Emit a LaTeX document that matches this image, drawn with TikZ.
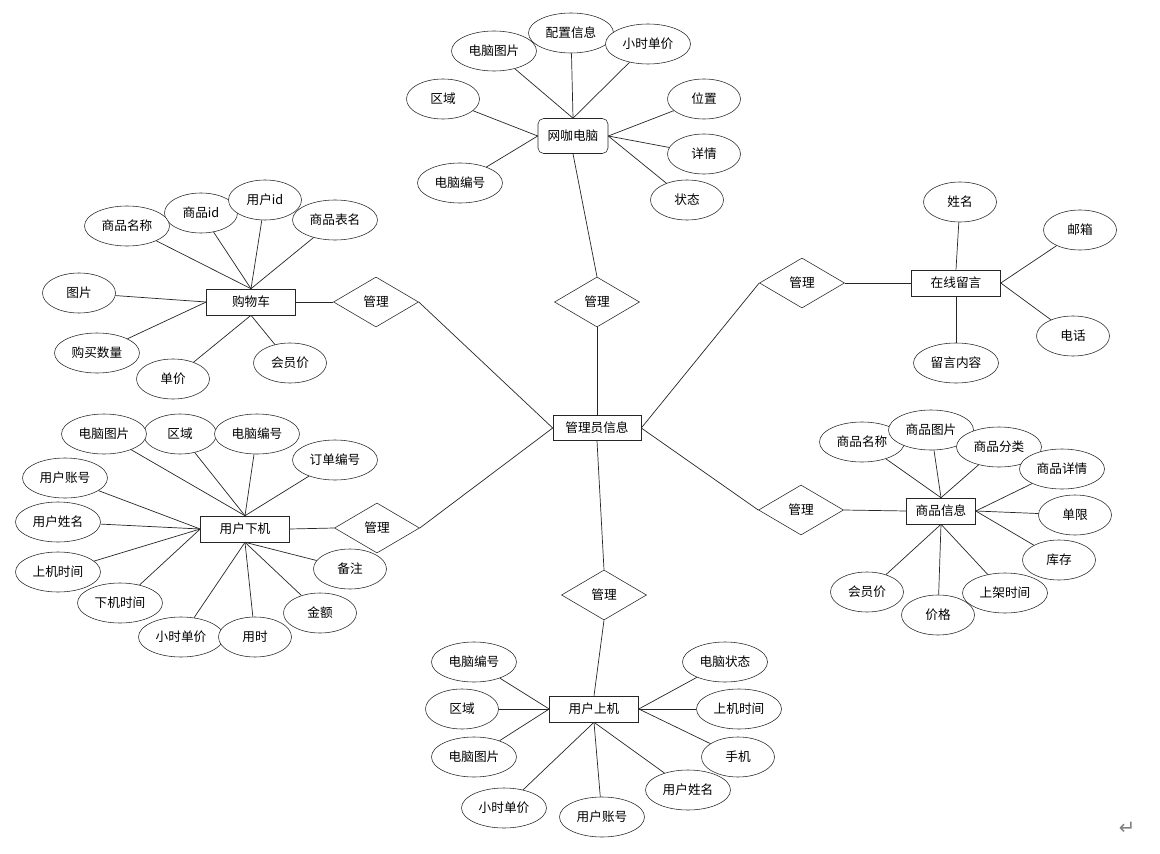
\documentclass[tikz,border=0pt]{standalone}
\usepackage{fontspec}
\setmainfont{Noto Sans CJK SC}
\newfontfamily\symfont{DejaVu Sans}
\usetikzlibrary{shapes.geometric}

\begin{document}
\begin{tikzpicture}[x=0.025cm, y=-0.025cm,
    every node/.style={font=\fontsize{9}{10}\selectfont, inner sep=0pt},
    attr/.style={draw=black!85, fill=white, ellipse, minimum width=2.125cm, minimum height=1cm},
    attrs/.style={attr, minimum width=1.825cm},
    ent/.style={draw=black!85, fill=white, rectangle, minimum width=2.225cm, minimum height=0.65cm},
    rel/.style={draw=black!85, fill=white, diamond, minimum width=2.125cm, minimum height=1.25cm},
    link/.style={draw=black!85, line width=0.5pt}]
    \useasboundingbox (0,0) rectangle (1160,854);

    % centre
    \node[ent, minimum width=2.2cm, minimum height=0.625cm] (admin) at (597,428) {管理员信息};

    % 网咖电脑
    \node[ent, rounded corners=4pt, minimum width=1.75cm, minimum height=0.875cm] (pc) at (573,136) {网咖电脑};
    \node[attr] (pccfg) at (571,33) {配置信息};
    \node[attr] (pcimg) at (494,51) {电脑图片};
    \node[attr] (pcprice) at (648,44) {小时单价};
    \node[attrs] (pcarea) at (443,99) {区域};
    \node[attrs] (pcpos) at (704,99) {位置};
    \node[attrs] (pcinfo) at (704,154) {详情};
    \node[attr] (pcno) at (460,183) {电脑编号};
    \node[attrs] (pcstate) at (687,200) {状态};
    \node[rel] (mpc) at (597,302) {管理};
    \draw[link] (pc.north) -- (pcimg);
    \draw[link] (pc.north) -- (pccfg);
    \draw[link] (pc.north) -- (pcprice);
    \draw[link] (pc.west) -- (pcarea);
    \draw[link] (pc.west) -- (pcno);
    \draw[link] (pc.east) -- (pcpos);
    \draw[link] (pc.east) -- (pcinfo);
    \draw[link] (pc.east) -- (pcstate);
    \draw[link] (pc.south) -- (mpc.north);
    \draw[link] (mpc.south) -- (admin.north);

    % 购物车
    \node[ent] (cart) at (251,302) {购物车};
    \node[attrs] (cartgid) at (201,213) {商品id};
    \node[attr] (cartname) at (127,226) {商品名称};
    \node[attr] (carttab) at (335,220) {商品表名};
    \node[attrs] (cartuid) at (265,200) {用户id};
    \node[attrs] (cartimg) at (79,293) {图片};
    \node[attr] (cartnum) at (97,353) {购买数量};
    \node[attrs] (cartprice) at (173,379) {单价};
    \node[attrs] (cartvip) at (290,363) {会员价};
    \node[rel] (mcart) at (376,302) {管理};
    \draw[link] (cart.north) -- (cartname);
    \draw[link] (cart.north) -- (cartgid);
    \draw[link] (cart.north) -- (cartuid);
    \draw[link] (cart.north) -- (carttab);
    \draw[link] (cart.west) -- (cartimg);
    \draw[link] (cart.west) -- (cartnum);
    \draw[link] (cart.south) -- (cartprice);
    \draw[link] (cart.south) -- (cartvip);
    \draw[link] (cart.east) -- (mcart.west);
    \draw[link] (mcart.east) -- (admin.west);

    % 用户下机
    \node[ent] (off) at (245,529) {用户下机};
    \node[attrs] (offarea) at (180,434) {区域};
    \node[attr] (offimg) at (104,434) {电脑图片};
    \node[attr] (offno) at (257,434) {电脑编号};
    \node[attr] (offorder) at (335,460) {订单编号};
    \node[attr] (offacc) at (65,478) {用户账号};
    \node[attr] (offname) at (58,522) {用户姓名};
    \node[attr] (offstart) at (58,572) {上机时间};
    \node[attr] (offend) at (120,603) {下机时间};
    \node[attr] (offprice) at (181,637) {小时单价};
    \node[attrs] (offtime) at (255,637) {用时};
    \node[attrs] (offsum) at (320,613) {金额};
    \node[attrs] (offnote) at (350,569) {备注};
    \node[rel] (moff) at (377,528) {管理};
    \draw[link] (off.north) -- (offimg);
    \draw[link] (off.north) -- (offarea);
    \draw[link] (off.north) -- (offno);
    \draw[link] (off.north) -- (offorder);
    \draw[link] (off.west) -- (offacc);
    \draw[link] (off.west) -- (offname);
    \draw[link] (off.west) -- (offstart);
    \draw[link] (off.west) -- (offend);
    \draw[link] (off.south) -- (offprice);
    \draw[link] (off.south) -- (offtime);
    \draw[link] (off.south) -- (offsum);
    \draw[link] (off.south) -- (offnote);
    \draw[link] (off.east) -- (moff.west);
    \draw[link] (moff.east) -- (admin.west);

    % 在线留言
    \node[ent] (msg) at (956,283) {在线留言};
    \node[attrs] (msgname) at (960,202) {姓名};
    \node[attrs] (msgmail) at (1080,230) {邮箱};
    \node[attrs] (msgtel) at (1073,336) {电话};
    \node[attr] (msgtext) at (956,363) {留言内容};
    \node[rel] (mmsg) at (802,283) {管理};
    \draw[link] (msg.north) -- (msgname);
    \draw[link] (msg.east) -- (msgmail);
    \draw[link] (msg.east) -- (msgtel);
    \draw[link] (msg.south) -- (msgtext);
    \draw[link] (mmsg.east) -- (msg.west);
    \draw[link] (mmsg.west) -- (admin.east);

    % 商品信息
    \node[ent, minimum width=1.725cm] (goods) at (941,511) {商品信息};
    \node[attr] (gname) at (862,442) {商品名称};
    \node[attr] (gimg) at (931,430) {商品图片};
    \node[attr] (gtype) at (999,447) {商品分类};
    \node[attr] (ginfo) at (1062,469) {商品详情};
    \node[attrs] (glimit) at (1075,515) {单限};
    \node[attrs] (gstock) at (1059,560) {库存};
    \node[attr] (gdate) at (1005,593) {上架时间};
    \node[attrs] (gprice) at (938,615) {价格};
    \node[attrs] (gvip) at (867,592) {会员价};
    \node[rel] (mgoods) at (801,510) {管理};
    \draw[link] (goods.north) -- (gname);
    \draw[link] (goods.north) -- (gimg);
    \draw[link] (goods.north) -- (gtype);
    \draw[link] (goods.east) -- (ginfo);
    \draw[link] (goods.east) -- (glimit);
    \draw[link] (goods.east) -- (gstock);
    \draw[link] (goods.south) -- (gdate);
    \draw[link] (goods.south) -- (gprice);
    \draw[link] (goods.south) -- (gvip);
    \draw[link] (mgoods.east) -- (goods.west);
    \draw[link] (mgoods.west) -- (admin.east);

    % 用户上机
    \node[ent] (on) at (594,709) {用户上机};
    \node[attr] (onno) at (474,662) {电脑编号};
    \node[attrs] (onarea) at (462,709) {区域};
    \node[attr] (onimg) at (474,757) {电脑图片};
    \node[attr] (onprice) at (504,808) {小时单价};
    \node[attr] (onacc) at (602,817) {用户账号};
    \node[attr] (onname) at (688,790) {用户姓名};
    \node[attrs] (ontel) at (738,757) {手机};
    \node[attr] (onstart) at (739,709) {上机时间};
    \node[attr] (onstate) at (725,662) {电脑状态};
    \node[rel] (mon) at (604,595) {管理};
    \draw[link] (on.west) -- (onno);
    \draw[link] (on.west) -- (onarea);
    \draw[link] (on.west) -- (onimg);
    \draw[link] (on.south) -- (onprice);
    \draw[link] (on.south) -- (onacc);
    \draw[link] (on.south) -- (onname);
    \draw[link] (on.east) -- (ontel);
    \draw[link] (on.east) -- (onstart);
    \draw[link] (on.east) -- (onstate);
    \draw[link] (admin.south) -- (mon.north);
    \draw[link] (mon.south) -- (on.north);

    \node[font=\symfont\fontsize{14}{14}\selectfont, gray] (ret) at (1127,828) {↵};
\end{tikzpicture}
\end{document}
